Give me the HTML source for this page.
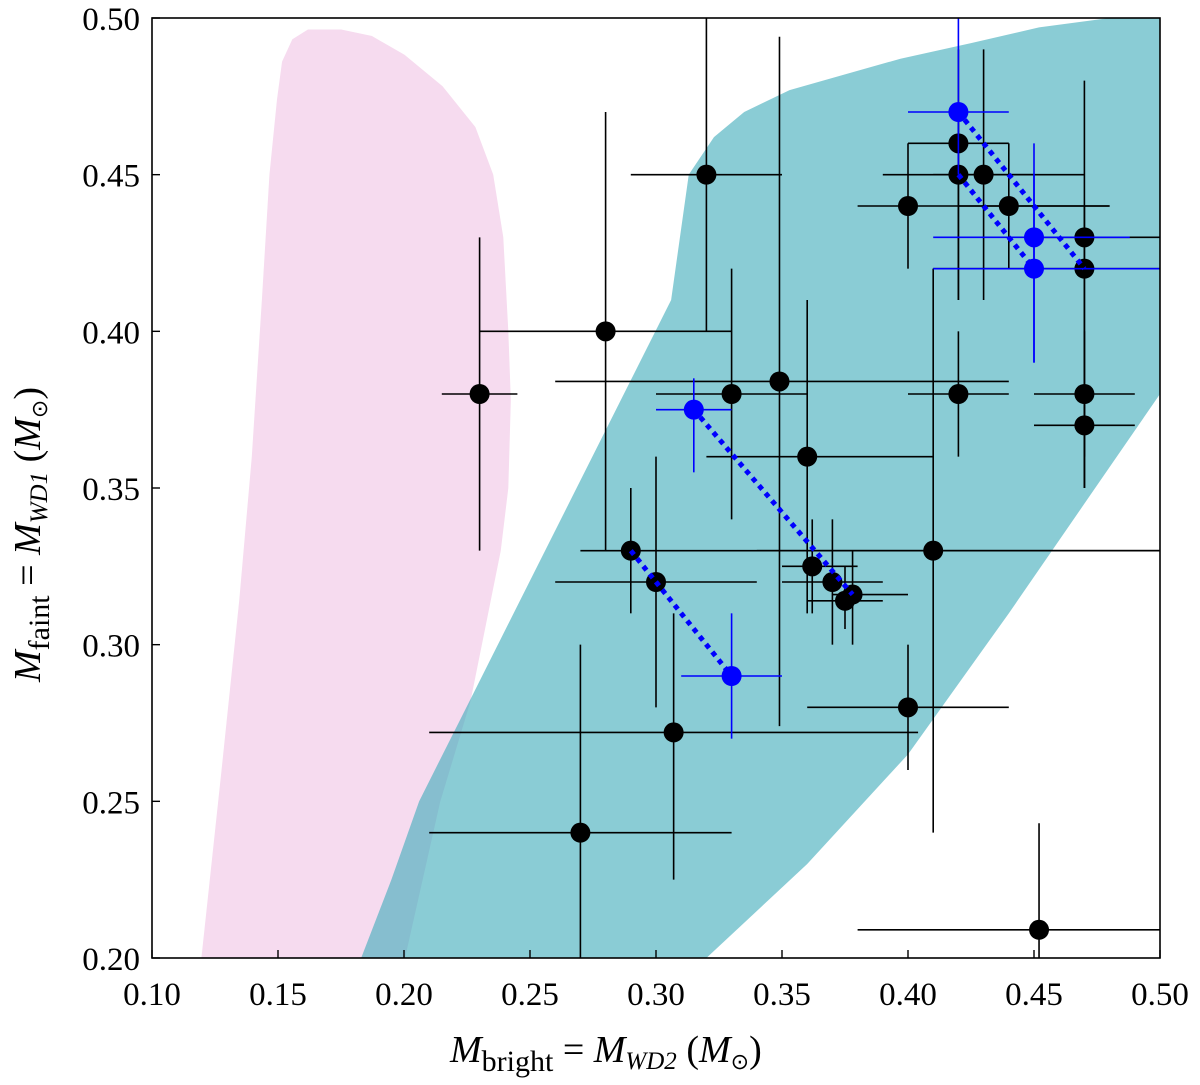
<!DOCTYPE html>
<html><head><meta charset="utf-8"><style>
body{margin:0;background:#fff}
svg{display:block}
text{font-family:"Liberation Serif",serif;fill:#000}
</style></head><body>
<svg id="c" width="1200" height="1085">
<g id="regions"></g>
<g id="marks"></g>
<g id="axes"></g>
</svg>
<script>
const xTicks=[0.10,0.15,0.20,0.25,0.30,0.35,0.40,0.45,0.50];
const yTicks=[0.20,0.25,0.30,0.35,0.40,0.45,0.50];
// black points: x, y, xlo, xhi, ylo, yhi
const blackX=[0.23,0.28,0.32,0.33,0.349,0.36,0.29,0.30,0.307,0.27,0.362,0.37,0.375,0.378,0.40,0.41,0.40,0.42,0.42,0.43,0.44,0.47,0.47,0.42,0.47,0.47,0.452];
const blackY=[0.38,0.40,0.45,0.38,0.384,0.36,0.33,0.32,0.272,0.24,0.325,0.32,0.314,0.316,0.28,0.33,0.44,0.46,0.45,0.45,0.44,0.43,0.42,0.38,0.38,0.37,0.209];
const blackXlo=[0.215,0.23,0.29,0.30,0.26,0.32,0.27,0.26,0.21,0.21,0.35,0.35,0.36,0.37,0.36,0.34,0.38,0.40,0.39,0.41,0.42,0.45,0.41,0.40,0.45,0.45,0.38];
const blackXhi=[0.245,0.33,0.35,0.36,0.44,0.41,0.50,0.34,0.404,0.33,0.38,0.39,0.39,0.40,0.44,0.50,0.48,0.44,0.47,0.45,0.48,0.50,0.50,0.44,0.49,0.49,0.50];
const blackYlo=[0.33,0.33,0.40,0.34,0.274,0.31,0.31,0.28,0.225,0.20,0.31,0.30,0.305,0.30,0.26,0.24,0.42,0.41,0.41,0.41,0.42,0.35,0.35,0.36,0.36,0.35,0.20];
const blackYhi=[0.43,0.47,0.50,0.42,0.494,0.41,0.35,0.36,0.31,0.30,0.34,0.34,0.325,0.33,0.30,0.42,0.46,0.49,0.47,0.49,0.46,0.48,0.44,0.40,0.40,0.38,0.243];
// blue points
const blueX=[0.42,0.45,0.45,0.315,0.33];
const blueY=[0.47,0.43,0.42,0.375,0.29];
const blueXlo=[0.40,0.41,0.41,0.30,0.31];
const blueXhi=[0.44,0.488,0.50,0.33,0.35];
const blueYlo=[0.45,0.39,0.39,0.355,0.27];
const blueYhi=[0.50,0.46,0.45,0.385,0.31];
// dotted connections
const linkX1=[0.42,0.42,0.315,0.29];
const linkY1=[0.47,0.45,0.375,0.33];
const linkX2=[0.47,0.45,0.378,0.33];
const linkY2=[0.42,0.42,0.316,0.29];
// region outlines (data coords)
const pinkX=[0.12,0.128,0.135,0.140,0.144,0.147,0.150,0.152,0.156,0.162,0.175,0.187,0.20,0.215,0.228,0.235,0.239,0.241,0.242,0.241,0.238,0.234,0.226,0.214,0.20];
const pinkY=[0.20,0.26,0.314,0.36,0.41,0.45,0.474,0.486,0.493,0.496,0.496,0.494,0.488,0.478,0.465,0.45,0.43,0.40,0.378,0.35,0.33,0.314,0.282,0.25,0.20];
const tealX=[0.183,0.195,0.206,0.226,0.246,0.266,0.286,0.306,0.313,0.323,0.335,0.353,0.375,0.397,0.425,0.452,0.48,0.50,0.50,0.47,0.44,0.40,0.36,0.32];
const tealY=[0.20,0.225,0.25,0.282,0.314,0.346,0.378,0.41,0.45,0.462,0.47,0.477,0.482,0.487,0.492,0.497,0.50,0.50,0.38,0.345,0.31,0.265,0.23,0.20];

const X0=152,X1=1160,Y0=958,Y1=18;
const sx=v=>X0+(v-0.1)/0.4*(X1-X0);
const sy=v=>Y0-(v-0.2)/0.3*(Y0-Y1);
const NS='http://www.w3.org/2000/svg';
function mk(t,p,a){const e=document.createElementNS(NS,t);for(const k in a)e.setAttribute(k,a[k]);p.appendChild(e);return e;}
const R=document.getElementById('regions'),M=document.getElementById('marks'),A=document.getElementById('axes');
const defs=mk('defs',document.getElementById('c'),{});
const cp=mk('clipPath',defs,{id:'pc'});mk('rect',cp,{x:X0,y:Y1,width:X1-X0,height:Y0-Y1});
R.setAttribute('clip-path','url(#pc)');M.setAttribute('clip-path','url(#pc)');
let pk=mk('polygon',R,{points:pinkX.map((x,i)=>sx(x)+','+sy(pinkY[i])).join(' '),fill:'#f6dbef','stroke':'#f6dbef','stroke-linejoin':'round','stroke-width':2});


let tl=mk('polygon',R,{points:tealX.map((x,i)=>sx(x)+','+sy(tealY[i])).join(' '),fill:'rgb(60,170,185)','fill-opacity':'0.6','stroke-linejoin':'round'});


function pts(xs,ys,xl,xh,yl,yh,col,name){
 xs.forEach((x,i)=>{
  const g=mk('g',M,{});
  
  
  mk('line',g,{x1:sx(xl[i]),x2:sx(xh[i]),y1:sy(ys[i]),y2:sy(ys[i]),stroke:col,'stroke-width':1.6});
  mk('line',g,{x1:sx(x),x2:sx(x),y1:sy(yl[i]),y2:sy(yh[i]),stroke:col,'stroke-width':1.6});
  mk('circle',g,{cx:sx(x),cy:sy(ys[i]),r:10,fill:col});
 });
}
pts(blackX,blackY,blackXlo,blackXhi,blackYlo,blackYhi,'#000','black-point');
linkX1.forEach((x,i)=>{
 const l=mk('line',M,{x1:sx(x),y1:sy(linkY1[i]),x2:sx(linkX2[i]),y2:sy(linkY2[i]),stroke:'#0000ff','stroke-width':5,'stroke-dasharray':'5 5'});
 
 
});
pts(blueX,blueY,blueXlo,blueXhi,blueYlo,blueYhi,'#0000ff','blue-point');
const fr=mk('rect',A,{x:X0,y:Y1,width:X1-X0,height:Y0-Y1,fill:'none',stroke:'#000','stroke-width':1.6});


xTicks.forEach(v=>{
 mk('line',A,{x1:sx(v),x2:sx(v),y1:Y0,y2:Y0-8,stroke:'#000','stroke-width':1.4});
 const t=mk('text',A,{x:sx(v),y:Y0+47,'text-anchor':'middle','font-size':33});t.textContent=v.toFixed(2);
 
 
});
yTicks.forEach(v=>{
 mk('line',A,{x1:X0,x2:X0+8,y1:sy(v),y2:sy(v),stroke:'#000','stroke-width':1.4});
 const t=mk('text',A,{x:X0-12,y:sy(v)+12,'text-anchor':'end','font-size':33});t.textContent=v.toFixed(2);
 
 
});
</script>
<svg style="position:absolute;left:0;top:0" width="1200" height="1085">
<text x="450" y="1062" font-size="38"><tspan font-style="italic">M</tspan><tspan font-size="30" dy="9">bright</tspan><tspan dy="-9"> = </tspan><tspan font-style="italic">M</tspan><tspan font-size="25" font-style="italic" dy="7">WD2</tspan><tspan dy="-7"> (</tspan><tspan font-style="italic">M</tspan><tspan font-size="22" dy="7">⊙</tspan><tspan dy="-7">)</tspan></text>
<text transform="translate(40,682) rotate(-90)" font-size="38"><tspan font-style="italic">M</tspan><tspan font-size="30" dy="9">faint</tspan><tspan dy="-9"> = </tspan><tspan font-style="italic">M</tspan><tspan font-size="25" font-style="italic" dy="7">WD1</tspan><tspan dy="-7"> (</tspan><tspan font-style="italic">M</tspan><tspan font-size="22" dy="7">⊙</tspan><tspan dy="-7">)</tspan></text>
</svg>
</body></html>
